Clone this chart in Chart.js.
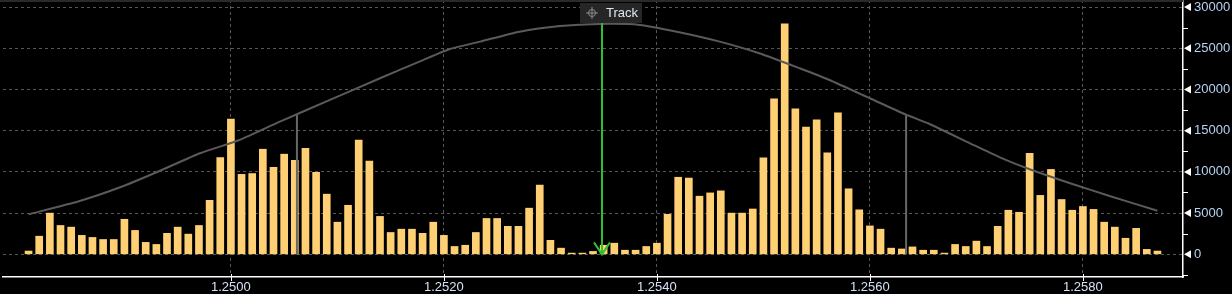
<!DOCTYPE html>
<html><head><meta charset="utf-8">
<script src="https://cdn.jsdelivr.net/npm/chart.js@4.4.1/dist/chart.umd.min.js"></script>
<style>html,body{margin:0;padding:0;background:#000;overflow:hidden}#wrap{width:1232px;height:294px}</style>
</head><body><div id="wrap"><canvas id="c" width="1232" height="294"></canvas></div>
<script>
// ---- data ----
const priceLevels = [
 1.2481,1.2482,1.2483,1.2484,1.2485,1.2486,1.2487,1.2488,1.2489,1.2490,
 1.2491,1.2492,1.2493,1.2494,1.2495,1.2496,1.2497,1.2498,1.2499,1.2500,
 1.2501,1.2502,1.2503,1.2504,1.2505,1.2506,1.2507,1.2508,1.2509,1.2510,
 1.2511,1.2512,1.2513,1.2514,1.2515,1.2516,1.2517,1.2518,1.2519,1.2520,
 1.2521,1.2522,1.2523,1.2524,1.2525,1.2526,1.2527,1.2528,1.2529,1.2530,
 1.2531,1.2532,1.2533,1.2534,1.2535,1.2536,1.2537,1.2538,1.2539,1.2540,
 1.2541,1.2542,1.2543,1.2544,1.2545,1.2546,1.2547,1.2548,1.2549,1.2550,
 1.2551,1.2552,1.2553,1.2554,1.2555,1.2556,1.2557,1.2558,1.2559,1.2560,
 1.2561,1.2562,1.2563,1.2564,1.2565,1.2566,1.2567,1.2568,1.2569,1.2570,
 1.2571,1.2572,1.2573,1.2574,1.2575,1.2576,1.2577,1.2578,1.2579,1.2580,
 1.2581,1.2582,1.2583,1.2584,1.2585,1.2586,1.2587
];
const volumes = [
 400,2200,5000,3500,3300,2300,2050,1800,1800,4250,
 2900,1450,1200,2550,3300,2450,3500,6550,11750,16400,
 9700,9800,12750,10550,12150,11400,12850,9950,7300,3900,
 5950,13850,11300,4600,2650,3050,3050,2550,3900,2300,
 950,1100,2650,4350,4350,3400,3400,5600,8400,1700,
 750,150,150,350,1100,1350,500,500,950,1350,
 4850,9350,9250,7050,7450,7700,5000,5000,5500,11700,
 18850,27950,17650,15450,16300,12300,17150,7950,5400,3450,
 3050,750,650,900,500,500,150,1200,950,1600,
 950,3400,5350,5100,12250,7150,10300,6650,5350,5800,
 5450,3900,3300,1950,3150,600,400
];
const curveLevels = [1.2481,1.24858,1.24896,1.24933,1.24971,1.25008,1.25046,1.25093,1.2514,1.25177,
 1.25205,1.25234,1.25271,1.25309,1.25346,1.25384,1.25421,1.25459,1.25496,1.25534,
 1.25562,1.256,1.25633,1.25656,1.25694,1.25722,1.2575,1.25788,1.25825,1.2587];
const curveValues = [4850,6470,8130,10110,12260,13870,16090,18730,21360,23370,
 24880,25800,27010,27700,27950,27830,26940,25800,24390,22570,
 21150,18930,16990,15810,13470,11770,10320,8620,7080,5290];
const sigmaLevels = [1.25062, 1.25634];
const sigmaValues = [17000, 17000];
const trackLevel = 1.25348;
const trackLabel = 'Track';
const xTickValues = [1.2500, 1.2520, 1.2540, 1.2560, 1.2580];
const yTickValues = [0, 5000, 10000, 15000, 20000, 25000, 30000];
const yMinorTickValues = [-2500, 2500, 7500, 12500, 17500, 22500, 27500];

// ---- chart ----
const FONT = '"Liberation Sans", Arial, sans-serif';
Chart.defaults.font.family = FONT;

const overlay = {
  id: 'overlay',
  afterDatasetsDraw(chart) {
    const {ctx, scales: {x, y}, chartArea: a} = chart;
    const tx = Math.round(x.getPixelForValue(trackLevel));
    const y0 = y.getPixelForValue(0);
    ctx.save();
    ctx.strokeStyle = '#2fbf2f';
    ctx.lineWidth = 2;
    ctx.beginPath(); ctx.moveTo(tx, a.top + 22); ctx.lineTo(tx, y0); ctx.stroke();
    ctx.beginPath(); ctx.moveTo(tx - 8, y0 - 12); ctx.lineTo(tx, y0); ctx.lineTo(tx + 8, y0 - 12); ctx.stroke();
    ctx.fillStyle = '#262626';
    ctx.fillRect(tx - 22, a.top + 3, 62, 20);
    const cx = tx - 10, cy = a.top + 13;
    ctx.strokeStyle = '#8a8a8a'; ctx.lineWidth = 1;
    ctx.beginPath(); ctx.arc(cx, cy, 3.5, 0, Math.PI * 2); ctx.stroke();
    ctx.beginPath();
    ctx.moveTo(cx - 6, cy); ctx.lineTo(cx + 6, cy);
    ctx.moveTo(cx, cy - 6); ctx.lineTo(cx, cy + 6);
    ctx.stroke();
    ctx.fillStyle = '#dde8f5';
    ctx.font = '13px ' + FONT;
    ctx.textAlign = 'left'; ctx.textBaseline = 'middle';
    ctx.fillText(trackLabel, tx + 4, cy);
    ctx.restore();
  },
  afterDraw(chart) {
    const {ctx, scales: {x, y}, chartArea: a} = chart;
    ctx.save();
    ctx.fillStyle = '#2a2a2a';
    ctx.fillRect(0, 0, a.right, 2);
    ctx.fillStyle = '#ffffff';
    yTickValues.forEach(v => {
      const py = y.getPixelForValue(v);
      ctx.beginPath();
      ctx.moveTo(a.right + 1, py);
      ctx.lineTo(a.right + 8, py - 4);
      ctx.lineTo(a.right + 8, py + 4);
      ctx.closePath(); ctx.fill();
    });
    ctx.strokeStyle = '#ffffff'; ctx.lineWidth = 1;
    yMinorTickValues.forEach(v => {
      const py = Math.round(y.getPixelForValue(v)) + 0.5;
      ctx.beginPath(); ctx.moveTo(a.right, py); ctx.lineTo(a.right + 5, py); ctx.stroke();
    });
    xTickValues.forEach(v => {
      const px = Math.round(x.getPixelForValue(v)) + 0.5;
      ctx.beginPath(); ctx.moveTo(px, a.bottom - 3); ctx.lineTo(px, a.bottom + 4); ctx.stroke();
    });
    ctx.restore();
  }
};

const barData = priceLevels.map((p, i) => ({x: p, y: volumes[i]}));
const curveData = curveLevels.map((p, i) => ({x: p, y: curveValues[i]}));
const sigmaSets = sigmaLevels.map((p, i) => ({
  type: 'line',
  data: [{x: p, y: 0}, {x: p, y: sigmaValues[i]}],
  borderColor: '#676767', borderWidth: 2, pointRadius: 0, order: 1
}));

new Chart(document.getElementById('c'), {
  type: 'bar',
  data: {
    datasets: [
      {type: 'line', data: curveData, borderColor: '#5a5a5a', borderWidth: 2,
       pointRadius: 0, tension: 0.2, order: 1},
      ...sigmaSets,
      {type: 'bar', data: barData, backgroundColor: '#ffd073', barThickness: 7, order: 2}
    ]
  },
  options: {
    responsive: false,
    animation: false,
    devicePixelRatio: 1,
    layout: {padding: {left: 3, right: 0, top: 0, bottom: 0}},
    plugins: {legend: {display: false}, tooltip: {enabled: false}},
    scales: {
      x: {
        type: 'linear', min: 1.24786, max: 1.25894, offset: false,
        afterBuildTicks: s => { s.ticks = xTickValues.map(v => ({value: v})); },
        afterFit: s => { s.height = 17; s.paddingLeft = 0; s.paddingRight = 0; },
        grid: {color: '#575757', lineWidth: 1, drawTicks: false, offset: false},
        border: {display: true, color: '#ffffff', width: 1.5, dash: [3, 3]},
        ticks: {color: '#d3e3f5', font: {size: 13}, padding: 3, maxRotation: 0,
                callback: v => Number(v).toFixed(4)}
      },
      y: {
        position: 'right', min: -2750, max: 30850,
        afterBuildTicks: s => { s.ticks = yTickValues.map(v => ({value: v})); },
        afterFit: s => { s.width = 49; s.paddingTop = 0; s.paddingBottom = 0; },
        grid: {color: '#575757', lineWidth: 1, drawTicks: false},
        border: {display: true, color: '#ffffff', width: 1.5, dash: [3, 3]},
        ticks: {color: '#b6d3f2', font: {size: 13}, padding: 11,
                callback: v => String(v)}
      }
    }
  },
  plugins: [overlay]
});
</script></body></html>
